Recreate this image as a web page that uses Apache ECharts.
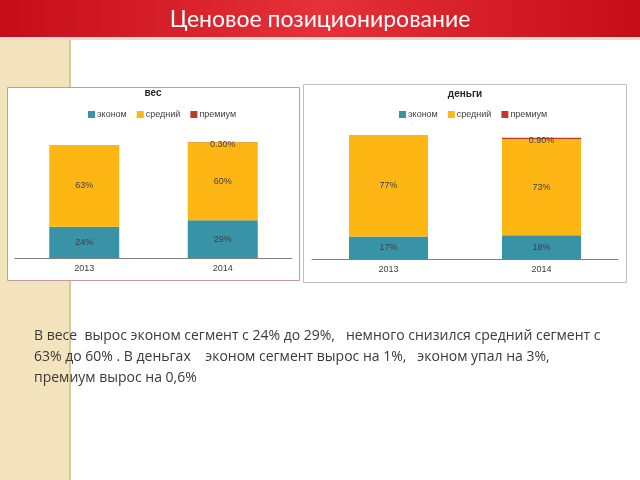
<!DOCTYPE html>
<html><head><meta charset="utf-8">
<script src="https://cdn.jsdelivr.net/npm/echarts@6/dist/echarts.min.js"></script>
<style>html,body{margin:0;padding:0;background:#fff}#c{width:640px;height:480px}</style>
</head><body><div id="c"></div>
<script>
const years = ['2013', '2014'];
const seriesNames = ['эконом', 'средний', 'премиум'];
const vesEconom = [24, 29];
const vesSredniy = [63, 60];
const vesPremium = [null, 0.30];
const dengiEconom = [17, 18];
const dengiSredniy = [77, 73];
const dengiPremium = [null, 0.90];
const colors = ['#3893a7', '#fdb614', '#c0392b'];
const textLines = [
  'В весе  вырос эконом сегмент с 24% до 29%,   немного снизился средний сегмент с',
  '63% до 60% . В деньгах    эконом сегмент вырос на 1%,   эконом упал на 3%,',
  'премиум вырос на 0,6%'
];

const chart = echarts.init(document.getElementById('c'), null, {renderer: 'canvas'});
const lblStyle = {show: true, position: 'inside', color: '#404040', fontSize: 9, fontFamily: 'Liberation Sans'};
function mk(name, data, gi, idx, barW, dec) {
  return {
    name: name, type: 'bar', stack: 's' + gi, xAxisIndex: gi, yAxisIndex: gi,
    data: data, barWidth: barW, itemStyle: {color: colors[idx]},
    label: Object.assign({}, lblStyle, {formatter: p => (dec ? Number(p.value).toFixed(2) : p.value) + '%', offset: dec ? [0, 2] : [0, 0]}),
    emphasis: {disabled: true}, animation: false
  };
}
const axX = (gi) => ({
  type: 'category', gridIndex: gi, data: years,
  axisLine: {lineStyle: {color: '#7f7f7f', width: 1}}, axisTick: {show: false},
  axisLabel: {color: '#404040', fontSize: 9, fontFamily: 'Liberation Sans', margin: 6}
});
const axY = (gi) => ({type: 'value', gridIndex: gi, min: 0, max: 100, show: false});
const legendCommon = {
  data: seriesNames, itemWidth: 7, itemHeight: 7, itemGap: 10, icon: 'rect',
  textStyle: {color: '#404040', fontSize: 9, fontFamily: 'Liberation Sans', padding: [0, 0, 0, -3]}
};
chart.setOption({
  animation: false,
  graphic: [
    {type: 'rect', shape: {x: 0, y: 37, width: 70, height: 443}, style: {fill: '#f3e4be'}, z: -10},
    {type: 'rect', shape: {x: 69, y: 37, width: 2, height: 443}, style: {fill: '#d7c79e'}, z: -10},
    {type: 'rect', shape: {x: 0, y: 37, width: 640, height: 3}, style: {fill: '#e8d8d8'}, z: -9},
    {type: 'rect', shape: {x: 0, y: 0, width: 640, height: 37},
      style: {fill: new echarts.graphic.LinearGradient(0, 0, 1, 0, [
        {offset: 0, color: '#c40d16'}, {offset: 0.5, color: '#e7313a'}, {offset: 1, color: '#c40d16'}])}, z: -8},
    {type: 'text', x: 320, y: 20, style: {text: 'Ценовое позиционирование', fill: '#ffffff', font: '23px Lato', align: 'center', verticalAlign: 'middle'}, z: 5},
    {type: 'rect', shape: {x: 7.5, y: 87.5, width: 292, height: 193}, style: {fill: '#ffffff', stroke: '#c99a9a', lineWidth: 1}, z: -5},
    {type: 'rect', shape: {x: 303.5, y: 84.5, width: 323, height: 198}, style: {fill: '#ffffff', stroke: '#c7bcbc', lineWidth: 1}, z: -5},
    {type: 'text', x: 153, y: 93, style: {text: 'вес', fill: '#262626', font: 'bold 10px Liberation Sans', align: 'center', verticalAlign: 'middle'}},
    {type: 'text', x: 465, y: 94, style: {text: 'деньги', fill: '#262626', font: 'bold 10px Liberation Sans', align: 'center', verticalAlign: 'middle'}},
    {type: 'text', x: 34, y: 336, style: {text: textLines[0], fill: '#3a3a3a', font: '14px Open Sans', verticalAlign: 'middle'}},
    {type: 'text', x: 34, y: 357, style: {text: textLines[1], fill: '#3a3a3a', font: '14px Open Sans', verticalAlign: 'middle'}},
    {type: 'text', x: 34, y: 378, style: {text: textLines[2], fill: '#3a3a3a', font: '14px Open Sans', verticalAlign: 'middle'}}
  ],
  legend: [
    Object.assign({}, legendCommon, {top: 105, left: 83}),
    Object.assign({}, legendCommon, {top: 105, left: 394})
  ],
  grid: [
    {left: 15, width: 277, top: 128, height: 130},
    {left: 312, width: 306, top: 127, height: 132}
  ],
  xAxis: [axX(0), axX(1)],
  yAxis: [axY(0), axY(1)],
  series: [
    mk(seriesNames[0], vesEconom, 0, 0, 70, false),
    mk(seriesNames[1], vesSredniy, 0, 1, 70, false),
    mk(seriesNames[2], vesPremium, 0, 2, 70, true),
    mk(seriesNames[0], dengiEconom, 1, 0, 79, false),
    mk(seriesNames[1], dengiSredniy, 1, 1, 79, false),
    mk(seriesNames[2], dengiPremium, 1, 2, 79, true)
  ]
});
</script></body></html>
